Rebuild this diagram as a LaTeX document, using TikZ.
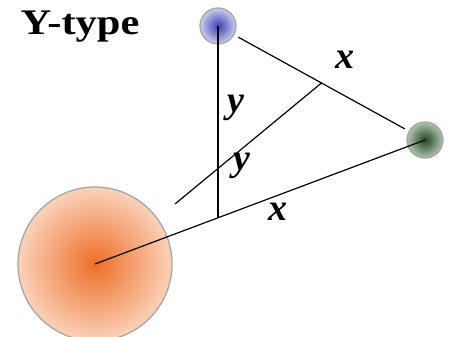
\documentclass[tikz,border=0pt]{standalone}
\usepackage{fontspec}
\setmainfont{Liberation Serif}
\usetikzlibrary{calc}
\definecolor{orangecore}{RGB}{238,110,40}
\definecolor{orangerim}{RGB}{250,210,185}
\definecolor{bluecore}{RGB}{60,60,185}
\definecolor{bluerim}{RGB}{205,205,238}
\definecolor{greencore}{RGB}{35,70,35}
\definecolor{greenrim}{RGB}{175,195,175}

\begin{document}
\begin{tikzpicture}[
  x=1pt, y=-1pt,
  ball/.style={circle, draw=gray!70, line width=1.3pt, minimum size=#1, inner sep=0pt, outer sep=0pt},
  bond/.style={line width=1.2pt},
  lbl/.style={font=\fontsize{38}{38}\selectfont\bfseries\itshape, inner sep=0pt},
  ttl/.style={font=\fontsize{36}{36}\selectfont\bfseries, text=black, inner sep=0pt},
]
\useasboundingbox (0,0) rectangle (450,337);

% === Title ===
\node[ttl] (title) at (80,27) {\scalebox{1.18}[1]{Y-type}};

% === Particles ===
\node[ball=154pt, inner color=orangecore, outer color=orangerim] (big) at (95,264) {};
\node[ball=36pt, inner color=bluecore, outer color=bluerim] (blue) at (218,26) {};
\node[ball=36pt, inner color=greencore, outer color=greenrim] (green) at (425,140) {};

% === Construction points ===
\coordinate (foot) at ($(big.center)!0.37!(green.center)$);
\coordinate (mid) at ($(blue.center)!0.5!(green.center)$);
\coordinate (tail) at (175,204);

% === Bonds ===
\draw[bond] (big.center) -- (green.center);
\draw[bond] (blue.center) -- (blue.center |- foot);
\draw[bond] (tail) -- (mid);
\draw[bond, shorten <=5pt, shorten >=5pt] (blue) -- (green);

% === Labels ===
\node[lbl] (x1) at (345,60) {x};
\node[lbl] (y1) at (236,108) {y};
\node[lbl] (y2) at (242,166) {y};
\node[lbl] (x2) at (278,212) {x};
\end{tikzpicture}
\end{document}
